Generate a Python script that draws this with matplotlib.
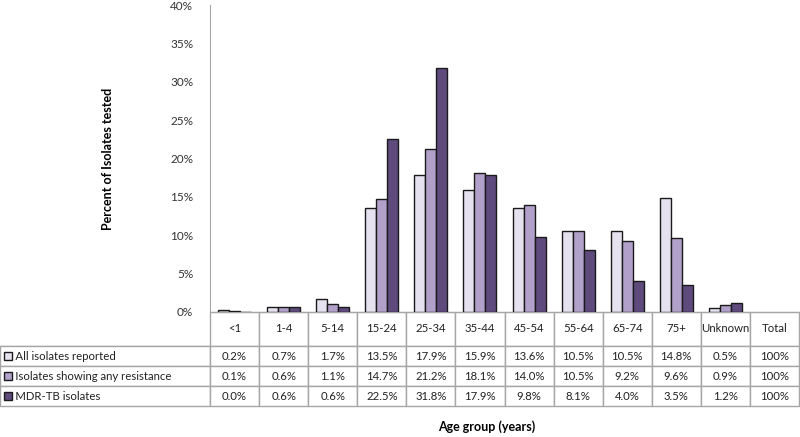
import matplotlib.pyplot as plt
import matplotlib.patches as mpatches
import numpy as np

plt.rcParams["font.family"] = ["Lato", "DejaVu Sans"]

age_groups = ["<1", "1-4", "5-14", "15-24", "25-34", "35-44", "45-54",
              "55-64", "65-74", "75+", "Unknown", "Total"]
series_names = ["All isolates reported", "Isolates showing any resistance",
                "MDR-TB isolates"]
all_isolates = [0.2, 0.7, 1.7, 13.5, 17.9, 15.9, 13.6, 10.5, 10.5, 14.8, 0.5]
any_resistance = [0.1, 0.6, 1.1, 14.7, 21.2, 18.1, 14.0, 10.5, 9.2, 9.6, 0.9]
mdr_tb = [0.0, 0.6, 0.6, 22.5, 31.8, 17.9, 9.8, 8.1, 4.0, 3.5, 1.2]
totals = ["100%", "100%", "100%"]

colors = ["#E6E1EF", "#B1A1CA", "#5F4A7E"]
grid_col = "#A6A6A6"

fig = plt.figure(figsize=(8, 4.37), dpi=100)
ax = fig.add_axes([210 / 800, 1 - 312 / 437, 589 / 800, 307 / 437])

data = [all_isolates, any_resistance, mdr_tb]
x = np.arange(len(all_isolates))
w = 0.224
for i, vals in enumerate(data):
    ax.bar(x + (i - 1) * w, vals, width=w, color=colors[i],
           edgecolor="#1a1a1a", linewidth=1.0, zorder=3)

ax.set_xlim(-0.5, len(age_groups) - 0.5)
ax.set_ylim(0, 40)
ax.set_yticks(np.arange(0, 41, 5))
ax.set_yticklabels([f"{v}%" for v in range(0, 41, 5)], fontsize=8.5, color="#333333")
ax.tick_params(axis="y", length=0, pad=12)
ax.set_xticks([])
for s in ["top", "right"]:
    ax.spines[s].set_visible(False)
ax.spines["left"].set_color(grid_col)
ax.spines["bottom"].set_color(grid_col)
ax.set_ylabel("Percent of Isolates tested", fontsize=9, fontweight="bold")
ax.yaxis.set_label_coords(-96 / 589, 0.5)

# table under the plot (first column holds the series names)
cell_text = []
for i, vals in enumerate(data):
    cell_text.append(["     " + series_names[i]] + [f"{v:.1f}%" for v in vals] + [totals[i]])

label_w = 210 / 589
tbl = ax.table(cellText=cell_text, colLabels=[""] + age_groups, cellLoc="center",
               bbox=[-label_w, -94 / 307, 1 + label_w, 94 / 307])
tbl.auto_set_font_size(False)
tbl.set_fontsize(8.2)
for (r, c), cell in tbl.get_celld().items():
    cell.set_edgecolor(grid_col)
    cell.set_linewidth(1.0)
    cell.set_height(34 if r == 0 else 20)
    cell.set_width(210 if c == 0 else 49.08)
    cell.get_text().set_color("#222222")
    if c == 0:
        cell.get_text().set_horizontalalignment("left")
        cell.PAD = 0.005
        if r == 0:
            cell.visible_edges = "B"

# legend keys in the row labels
for i in range(3):
    yc = 1 - (356 + i * 20) / 437
    fig.patches.append(mpatches.Rectangle((4 / 800, yc - 4 / 437), 8 / 800, 8 / 437,
                                          transform=fig.transFigure,
                                          facecolor=colors[i], edgecolor="#1a1a1a",
                                          linewidth=1.0, zorder=5))

fig.text(487 / 800, 1 - 427 / 437, "Age group (years)", ha="center", va="center",
         fontsize=9, fontweight="bold")

fig.savefig("out.png", dpi=100)
